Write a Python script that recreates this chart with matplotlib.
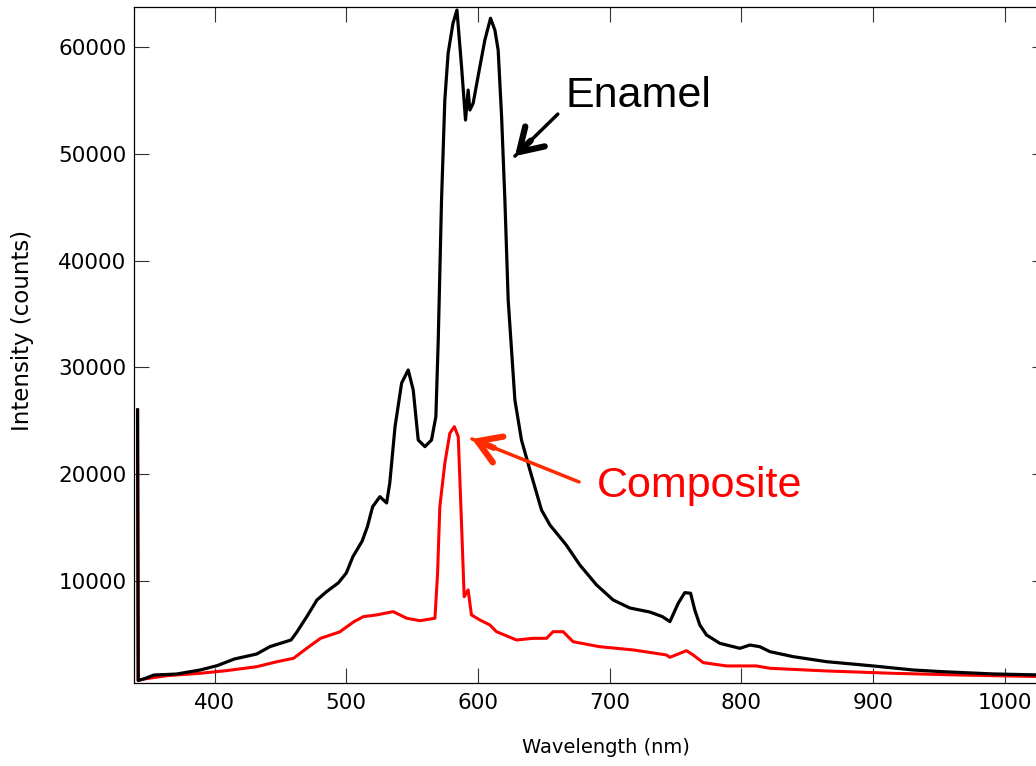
import matplotlib
matplotlib.use("Agg")
import matplotlib.pyplot as plt

# Enamel spectrum (black)
enamel_nm = [341.5, 342.0, 346, 354, 371, 389, 402, 415, 432, 442, 458, 462, 470, 477.7,
             485, 494, 500, 505, 512, 516, 520, 525.5, 530.6, 533, 537, 542, 547, 550.8,
             554.6, 559.7, 564.7, 568, 569.8, 572.3, 574.8, 577.3, 581, 584, 587.5, 590.5,
             592.5, 593.8, 596.3, 601.4, 605.2, 609.5, 612.8, 615.3, 617.9, 620.4, 622.9,
             628, 633, 639.4, 648.2, 654.6, 667, 677.3, 690, 702.6, 715.3, 730.5, 740,
             745.7, 752, 757, 761.4, 764.6, 768.4, 773.5, 783.6, 798.8, 806.4, 814, 821.6,
             839.3, 864.6, 900, 930.4, 953, 991, 1032]
enamel_counts = [26000, 650, 780, 1160, 1250, 1630, 2040, 2660, 3130, 3820, 4440, 5100,
                 6630, 8190, 8970, 9800, 10720, 12250, 13700, 15060, 16930, 17870, 17280,
                 19150, 24430, 28520, 29740, 27870, 23180, 22560, 23180, 25370, 32550,
                 45670, 55040, 59420, 62230, 63470, 58160, 53160, 55970, 54100, 54730,
                 58160, 60660, 62700, 61590, 59720, 53480, 45670, 36300, 26930, 23180,
                 20370, 16620, 15220, 13340, 11470, 9600, 8190, 7440, 7060, 6630, 6160,
                 7880, 8880, 8820, 7250, 5850, 4910, 4130, 3660, 3970, 3810, 3350, 2880,
                 2410, 2010, 1630, 1470, 1260, 1150]

# Composite spectrum (red)
composite_nm = [341.5, 342.0, 346, 364, 389, 409, 432, 447.5, 460, 470, 480.5, 495,
                505.8, 513, 523, 535.6, 545.8, 555.9, 567.3, 569.3, 571, 574.8, 578.6,
                582, 585, 587, 589.5, 592.5, 595, 601.4, 609, 614, 629.3, 641.9, 652, 657,
                664.6, 672.2, 692.5, 717.8, 743, 745.7, 758.3, 763.3, 771, 788.7, 811.5,
                821.6, 864.6, 915, 965.8, 1032]
composite_counts = [26000, 650, 780, 1100, 1320, 1570, 1940, 2410, 2730, 3670, 4600, 5200,
                    6160, 6630, 6790, 7100, 6480, 6250, 6480, 10690, 16930, 21000, 23810,
                    24430, 23490, 16930, 8500, 9130, 6790, 6320, 5850, 5220, 4440, 4600,
                    4600, 5220, 5220, 4280, 3810, 3510, 3040, 2820, 3440, 3040, 2320, 2010,
                    2010, 1790, 1540, 1320, 1160, 1000]

y_ticks = [10000, 20000, 30000, 40000, 50000, 60000]
x_ticks = [400, 500, 600, 700, 800, 900, 1000]

fig = plt.figure(figsize=(10.36, 7.66), dpi=100)
ax = fig.add_axes([0.1296, 0.1080, 0.881, 0.8829])

ax.plot(composite_nm, composite_counts, color="#ff0000", lw=2.2)
ax.plot(enamel_nm, enamel_counts, color="black", lw=2.3)

ax.set_xlim(339, 1032)
ax.set_ylim(386, 63756)
ax.set_xticks(x_ticks)
ax.set_yticks(y_ticks)
ax.tick_params(direction="in", length=11, width=0.8, top=True, right=True,
               labelsize=15.5, color="#333333")
ax.tick_params(axis="y", pad=5.5)
ax.tick_params(axis="x", pad=7)
for s in ax.spines.values():
    s.set_linewidth(0.9)

ax.set_xlabel("Wavelength (nm)", fontsize=14)
ax.set_ylabel("Intensity (counts)", fontsize=16.5)
ax.xaxis.set_label_coords(0.517, -0.0957)
ax.xaxis.label.set_va("center")
ax.yaxis.set_label_coords(-0.123, 0.5224)
ax.yaxis.label.set_va("center")

# annotations
ax.text(666.7, 54390, "Enamel", fontsize=31, family="Liberation Sans",
        color="black", ha="left", va="baseline")
ax.annotate("", xy=(628, 49780), xytext=(660.6, 53720),
            arrowprops=dict(arrowstyle="-", lw=2.5, color="black",
                            shrinkA=0, shrinkB=0))
ax.annotate("", xy=(628, 49780), xytext=(640, 51230),
            arrowprops=dict(arrowstyle="->,head_length=0.8,head_width=0.5",
                            lw=4.5, color="black", mutation_scale=20,
                            shrinkA=0, shrinkB=0))

ax.text(690.2, 17840, "Composite", fontsize=31, family="Liberation Sans",
        color="#ff0000", ha="left", va="baseline")
ax.annotate("", xy=(595.4, 23280), xytext=(676.7, 19250),
            arrowprops=dict(arrowstyle="-", lw=2.5, color="#ff2a00",
                            shrinkA=0, shrinkB=0))
ax.annotate("", xy=(595.4, 23280), xytext=(612, 22450),
            arrowprops=dict(arrowstyle="->,head_length=0.8,head_width=0.5",
                            lw=4.5, color="#ff2a00", mutation_scale=20,
                            shrinkA=0, shrinkB=0))

fig.savefig("out.png", dpi=100)
